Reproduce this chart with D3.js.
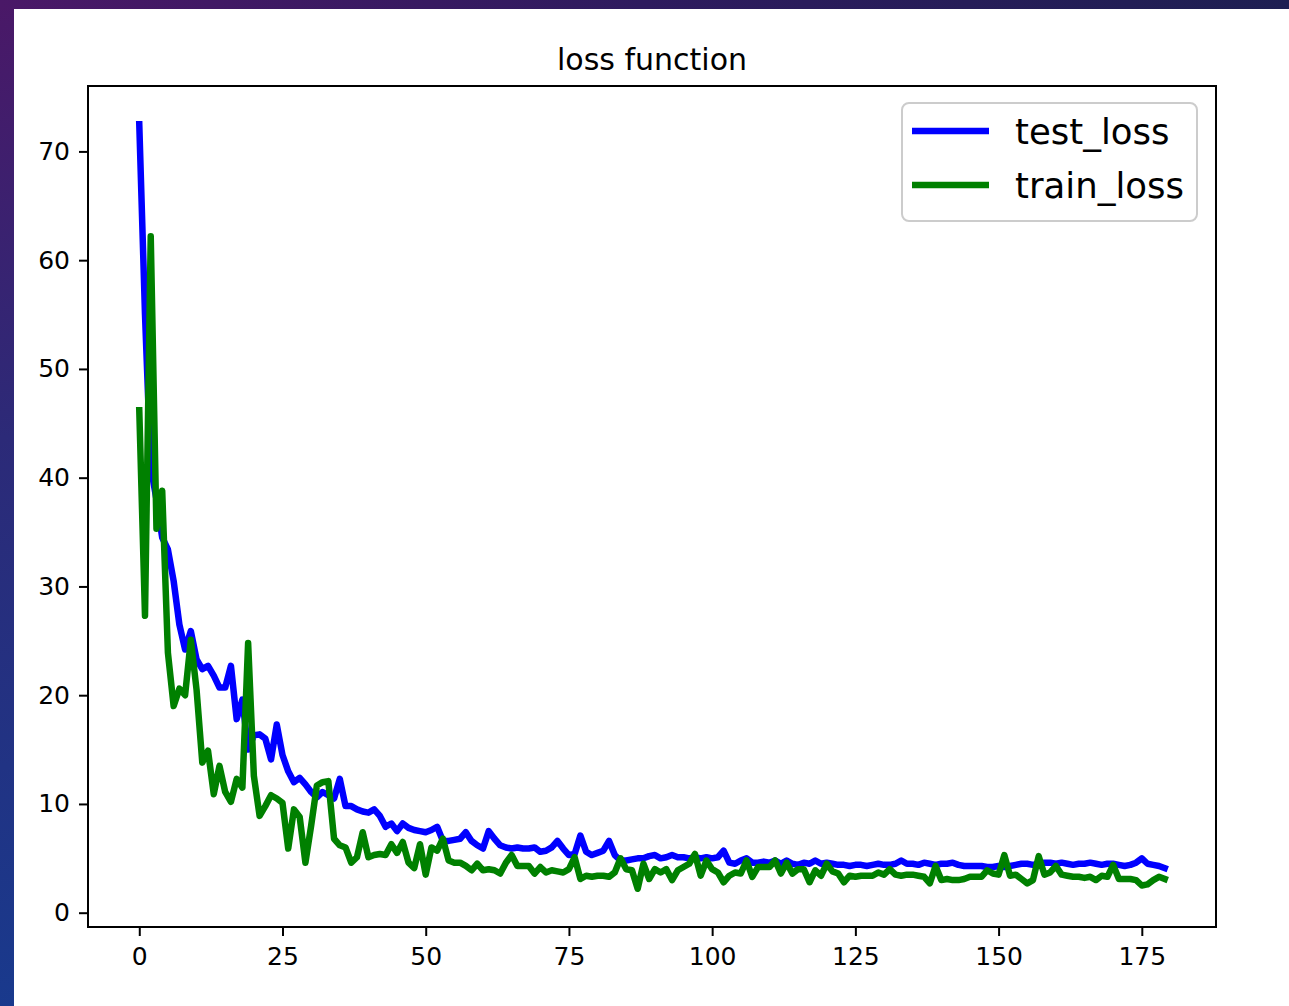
<!DOCTYPE html>
<html>
<head>
<meta charset="utf-8">
<script src="https://cdn.jsdelivr.net/npm/d3@7"></script>
<style>
  html, body { margin: 0; padding: 0; background: #1c2360; }
  svg { display: block; }
  text { font-family: "DejaVu Sans", sans-serif; fill: #000; }
</style>
</head>
<body>
<svg id="chart" width="1289" height="1006"></svg>
<script>
// Loss per epoch (epochs 0..179)
const testLoss = [
  72.5, 55.0, 41.0, 38.0, 34.5, 33.4, 30.5, 26.5, 24.2, 25.9,
  23.3, 22.4, 22.7, 21.8, 20.7, 20.7, 22.7, 17.8, 19.6, 15.0,
  16.3, 16.4, 16.0, 14.1, 17.3, 14.5, 13.0, 12.0, 12.4, 11.8,
  11.1, 10.6, 11.1, 10.8, 10.5, 12.3, 9.8, 9.8, 9.5, 9.3,
  9.2, 9.5, 8.9, 7.9, 8.2, 7.5, 8.2, 7.8, 7.6, 7.5,
  7.4, 7.6, 7.9, 6.6, 6.6, 6.7, 6.8, 7.4, 6.6, 6.2,
  5.9, 7.5, 6.8, 6.2, 6.0, 5.9, 6.0, 5.9, 5.9, 6.0,
  5.6, 5.7, 6.0, 6.6, 5.9, 5.3, 5.4, 7.1, 5.6, 5.3,
  5.5, 5.7, 6.6, 5.3, 4.8, 4.8, 4.9, 5.0, 5.0, 5.2,
  5.3, 5.0, 5.1, 5.3, 5.1, 5.1, 5.0, 5.1, 5.0, 5.1,
  5.0, 5.1, 5.7, 4.6, 4.5, 4.8, 5.0, 4.6, 4.6, 4.7,
  4.6, 4.8, 4.5, 4.8, 4.5, 4.4, 4.6, 4.5, 4.8, 4.5,
  4.6, 4.5, 4.4, 4.4, 4.3, 4.4, 4.4, 4.3, 4.4, 4.5,
  4.4, 4.4, 4.5, 4.8, 4.5, 4.5, 4.4, 4.6, 4.5, 4.4,
  4.5, 4.5, 4.6, 4.4, 4.3, 4.3, 4.3, 4.3, 4.2, 4.2,
  4.3, 4.2, 4.3, 4.4, 4.5, 4.5, 4.4, 4.5, 4.6, 4.6,
  4.5, 4.6, 4.5, 4.4, 4.5, 4.5, 4.6, 4.5, 4.4, 4.5,
  4.5, 4.4, 4.3, 4.4, 4.6, 5.0, 4.5, 4.4, 4.3, 4.1
];
const trainLoss = [
  46.2, 27.3, 62.2, 35.3, 38.8, 23.9, 19.0, 20.6, 20.0, 25.1,
  20.5, 13.8, 14.9, 10.9, 13.5, 11.1, 10.2, 12.3, 11.5, 24.8,
  12.6, 8.9, 9.8, 10.8, 10.5, 10.1, 5.9, 9.5, 8.8, 4.6,
  8.0, 11.7, 12.0, 12.1, 6.8, 6.2, 6.0, 4.6, 5.1, 7.4,
  5.1, 5.3, 5.4, 5.3, 6.3, 5.5, 6.5, 4.6, 4.1, 6.3,
  3.5, 6.0, 5.7, 6.8, 4.8, 4.6, 4.6, 4.3, 3.9, 4.5,
  3.9, 4.0, 3.9, 3.6, 4.6, 5.3, 4.3, 4.3, 4.3, 3.6,
  4.2, 3.7, 3.9, 3.8, 3.7, 4.0, 5.1, 3.1, 3.4, 3.3,
  3.4, 3.4, 3.3, 3.7, 5.0, 4.0, 3.9, 2.2, 4.5, 3.1,
  4.0, 3.7, 4.0, 3.0, 3.9, 4.2, 4.5, 5.4, 3.4, 4.8,
  4.0, 3.7, 2.8, 3.4, 3.7, 3.6, 4.8, 3.3, 4.2, 4.2,
  4.2, 4.8, 3.6, 4.6, 3.6, 4.0, 4.0, 2.8, 3.9, 3.4,
  4.5, 3.8, 3.6, 2.8, 3.4, 3.3, 3.4, 3.4, 3.4, 3.7,
  3.5, 4.0, 3.5, 3.4, 3.5, 3.5, 3.4, 3.3, 2.7, 4.3,
  3.0, 3.1, 3.0, 3.0, 3.1, 3.3, 3.3, 3.3, 3.9, 3.6,
  3.5, 5.3, 3.4, 3.5, 3.1, 2.7, 3.0, 5.2, 3.5, 3.7,
  4.3, 3.5, 3.4, 3.3, 3.3, 3.2, 3.3, 3.0, 3.4, 3.3,
  4.4, 3.1, 3.1, 3.1, 3.0, 2.5, 2.6, 3.0, 3.3, 3.1
];
const epochs = d3.range(testLoss.length);
const seriesNames = ["test_loss", "train_loss"];
const seriesColors = ["#0000ff", "#008000"];
const xTicks = [0, 25, 50, 75, 100, 125, 150, 175];
const yTicks = [0, 10, 20, 30, 40, 50, 60, 70];
const titleText = "loss function";

const W = 1289, H = 1006;
const frame = { left: 88, right: 1216, top: 86, bottom: 927 };

const svg = d3.select("#chart");

// slide backdrop behind the white figure
const defs = svg.append("defs");
const bg = defs.append("linearGradient").attr("id", "bg")
  .attr("x1", "0").attr("y1", "0").attr("x2", "0.3").attr("y2", "1");
bg.append("stop").attr("offset", "0").attr("stop-color", "#4a1867");
bg.append("stop").attr("offset", "0.4").attr("stop-color", "#2c2a78");
bg.append("stop").attr("offset", "1").attr("stop-color", "#163c90");
svg.append("rect").attr("width", W).attr("height", H).attr("fill", "url(#bg)");
const topBand = defs.append("linearGradient").attr("id", "topBand")
  .attr("x1", "0").attr("y1", "0").attr("x2", "1").attr("y2", "0");
topBand.append("stop").attr("offset", "0").attr("stop-color", "#4a1867");
topBand.append("stop").attr("offset", "0.5").attr("stop-color", "#2e1b5e");
topBand.append("stop").attr("offset", "1").attr("stop-color", "#1e1f52");
svg.append("rect").attr("width", W).attr("height", 10).attr("fill", "url(#topBand)");
svg.append("rect").attr("x", 14).attr("y", 9).attr("width", W - 14).attr("height", H - 9)
  .attr("fill", "#ffffff");

// scales with 5% margins on each side
const all = testLoss.concat(trainLoss);
const xPad = 0.05 * (epochs[epochs.length - 1] - epochs[0]);
const yMin = d3.min(all), yMax = d3.max(all);
const yPad = 0.05 * (yMax - yMin);
const x = d3.scaleLinear()
  .domain([epochs[0] - xPad, epochs[epochs.length - 1] + xPad])
  .range([frame.left, frame.right]);
const y = d3.scaleLinear()
  .domain([yMin - yPad, yMax + yPad])
  .range([frame.bottom, frame.top]);

// axes
const tickFont = 25;
const xAxis = d3.axisBottom(x).tickValues(xTicks).tickSize(9).tickPadding(11).tickSizeOuter(0);
const yAxis = d3.axisLeft(y).tickValues(yTicks).tickSize(9).tickPadding(9).tickSizeOuter(0);

const gx = svg.append("g").attr("transform", `translate(0,${frame.bottom})`).call(xAxis);
const gy = svg.append("g").attr("transform", `translate(${frame.left},0)`).call(yAxis);
[gx, gy].forEach(g => {
  g.select(".domain").remove();
  g.selectAll(".tick line").attr("stroke", "#000").attr("stroke-width", 2);
  g.selectAll(".tick text").attr("font-size", tickFont)
    .attr("font-family", "DejaVu Sans, sans-serif").attr("fill", "#000");
});

// plotted series (test first, train drawn over it)
const line = d3.line().x((d, i) => x(epochs[i])).y(d => y(d));
const clip = defs.append("clipPath").attr("id", "plotArea");
clip.append("rect").attr("x", frame.left).attr("y", frame.top)
  .attr("width", frame.right - frame.left).attr("height", frame.bottom - frame.top);

const plot = svg.append("g").attr("clip-path", "url(#plotArea)");
[testLoss, trainLoss].forEach((series, k) => {
  plot.append("path")
    .datum(series)
    .attr("d", line)
    .attr("fill", "none")
    .attr("stroke", seriesColors[k])
    .attr("stroke-width", 6.5)
    .attr("stroke-linejoin", "round")
    .attr("stroke-linecap", "square");
});

// frame
svg.append("rect")
  .attr("x", frame.left).attr("y", frame.top)
  .attr("width", frame.right - frame.left).attr("height", frame.bottom - frame.top)
  .attr("fill", "none").attr("stroke", "#000").attr("stroke-width", 2);

// title
svg.append("text")
  .attr("x", (frame.left + frame.right) / 2).attr("y", 70)
  .attr("text-anchor", "middle").attr("font-size", 30)
  .text(titleText);

// legend
const lg = svg.append("g");
lg.append("rect")
  .attr("x", 902).attr("y", 103).attr("width", 295).attr("height", 118)
  .attr("rx", 7).attr("ry", 7)
  .attr("fill", "#ffffff").attr("fill-opacity", 0.8)
  .attr("stroke", "#cccccc").attr("stroke-width", 2);
seriesNames.forEach((name, k) => {
  const cy = 131 + k * 54;
  lg.append("line")
    .attr("x1", 912).attr("x2", 989).attr("y1", cy).attr("y2", cy)
    .attr("stroke", seriesColors[k]).attr("stroke-width", 6.5);
  lg.append("text")
    .attr("x", 1015).attr("y", cy).attr("dy", "0.36em")
    .attr("font-size", 35.5)
    .text(name);
});
</script>
</body>
</html>
